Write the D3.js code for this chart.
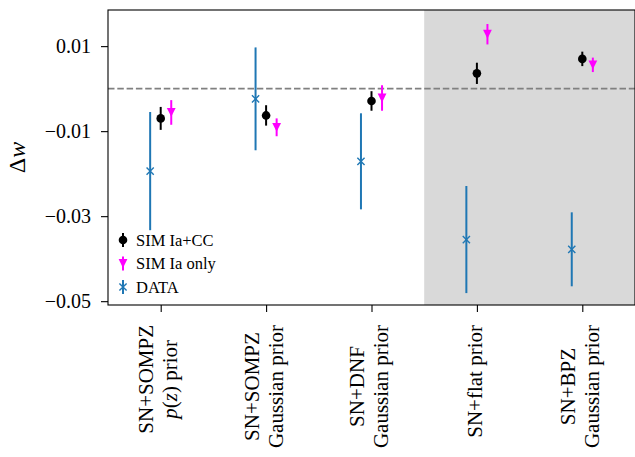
<!DOCTYPE html>
<html>
<head>
<meta charset="utf-8">
<script src="https://cdn.jsdelivr.net/npm/d3@7"></script>
<style>
  body { margin: 0; background: #fff; }
  svg { display: block; }
  svg text { font-family: "Liberation Serif", "DejaVu Serif", serif; }
</style>
</head>
<body>
<div id="chart"></div>
<script>
// category labels, one entry per line; _x_ marks italic (math) text
const categories = [
  ["SN+SOMPZ", "_p_(_z_) prior"],
  ["SN+SOMPZ", "Gaussian prior"],
  ["SN+DNF", "Gaussian prior"],
  ["SN+flat prior"],
  ["SN+BPZ", "Gaussian prior"]
];
const yTicks = [0.01, -0.01, -0.03, -0.05];

const simCC    = [-0.0070, -0.0063, -0.0029, 0.0036, 0.0070];
const simCCErr = [0.0027, 0.0024, 0.0023, 0.0025, 0.0017];
const simIa    = [-0.0056, -0.0091, -0.0022, 0.0128, 0.0056];
const simIaErr = [0.0029, 0.0021, 0.0030, 0.0024, 0.0017];
const dataW    = [-0.0194, -0.0024, -0.0171, -0.0355, -0.0378];
const dataErr  = [0.0139, 0.0121, 0.0113, 0.0126, 0.0087];

const shaded = [2.5, 4.5];   // x range of the grey band

const width = 635, height = 457;
const margin = {top: 10, right: 0, bottom: 152, left: 108};

const svg = d3.select('#chart').append('svg')
    .attr('width', width).attr('height', height);

const x = d3.scaleLinear([-0.5, 4.5], [margin.left, width - margin.right]);
const y = d3.scaleLinear([-0.0509, 0.0185], [height - margin.bottom, margin.top]);

const series = [
  {name: 'SIM Ia+CC', vals: simCC, errs: simCCErr, dx: 0, color: '#000000', marker: 'circle'},
  {name: 'SIM Ia only', vals: simIa, errs: simIaErr, dx: 0.1, color: '#ff00ff', marker: 'tri'},
  {name: 'DATA', vals: dataW, errs: dataErr, dx: -0.1, color: '#1f77b4', marker: 'x'}
];

// grey band
svg.append('rect')
    .attr('x', x(shaded[0])).attr('y', y.range()[1])
    .attr('width', x(shaded[1]) - x(shaded[0]))
    .attr('height', y.range()[0] - y.range()[1])
    .attr('fill', '#d9d9d9');

// zero line
svg.append('line')
    .attr('x1', x.range()[0]).attr('x2', x.range()[1])
    .attr('y1', y(0)).attr('y2', y(0))
    .attr('stroke', '#808080').attr('stroke-width', 1.6)
    .attr('stroke-dasharray', '6.5,2.8');

function drawMarker(g, type, color) {
  if (type === 'circle') {
    g.append('circle').attr('r', 4.3).attr('fill', color);
  } else if (type === 'tri') {
    const s = 4.4;
    g.append('path').attr('d', `M${-s},${-s}L${s},${-s}L0,${s}Z`).attr('fill', color);
  } else {
    const s = 3.6;
    g.append('path').attr('d', `M${-s},${-s}L${s},${s}M${-s},${s}L${s},${-s}`)
        .attr('stroke', color).attr('stroke-width', 1.4).attr('fill', 'none');
  }
}

// draw DATA first, then simulations
[series[2], series[0], series[1]].forEach(s => {
  const g = svg.append('g');
  const pts = s.vals.map((v, i) => ({i, v, e: s.errs[i]}));
  g.selectAll('line').data(pts).join('line')
      .attr('x1', d => x(d.i + s.dx)).attr('x2', d => x(d.i + s.dx))
      .attr('y1', d => y(d.v - d.e)).attr('y2', d => y(d.v + d.e))
      .attr('stroke', s.color).attr('stroke-width', 2);
  g.selectAll('g.pt').data(pts).join('g').classed('pt', true)
      .attr('transform', d => `translate(${x(d.i + s.dx)},${y(d.v)})`)
      .each(function() { drawMarker(d3.select(this), s.marker, s.color); });
});

// axes
const axisY = svg.append('g')
    .attr('transform', `translate(${margin.left},0)`)
    .call(d3.axisLeft(y).tickValues(yTicks).tickFormat(d3.format('.2f'))
        .tickSize(7).tickPadding(10));
axisY.attr('font-family', null).attr('font-size', 20);
axisY.select('.domain').remove();
axisY.selectAll('text').attr('dy', '0.33em');

const axisX = svg.append('g')
    .attr('transform', `translate(0,${height - margin.bottom})`)
    .call(d3.axisBottom(x).tickValues(d3.range(categories.length)).tickFormat('')
        .tickSize(7));
axisX.select('.domain').remove();
svg.selectAll('.tick line').attr('stroke-width', 1.1);

// frame
svg.append('rect')
    .attr('x', x.range()[0]).attr('y', y.range()[1])
    .attr('width', x.range()[1] - x.range()[0])
    .attr('height', y.range()[0] - y.range()[1])
    .attr('fill', 'none').attr('stroke', '#000').attr('stroke-width', 1.1);

// rotated category labels
function addRich(t, str) {
  str.split('_').forEach((part, k) => {
    if (part === '') return;
    t.append('tspan').text(part).attr('font-style', k % 2 ? 'italic' : null);
  });
}
const lineStep = 24, labelTop = 325;
categories.forEach((lines, i) => {
  const g = svg.append('g');
  const texts = lines.map((ln, j) => {
    const t = g.append('text').attr('font-size', 21);
    addRich(t, ln);
    return t;
  });
  const maxLen = d3.max(texts, t => t.node().getComputedTextLength());
  texts.forEach((t, j) => {
    const bx = x(i) + (j - (lines.length - 1) / 2) * lineStep + 4.75;
    const cy = labelTop + maxLen / 2;
    t.attr('text-anchor', 'middle')
        .attr('transform', `translate(${bx},${cy})rotate(-90)`);
  });
});

// y label
const yl = svg.append('text')
    .attr('transform', `translate(25,${(y.range()[0] + y.range()[1]) / 2})rotate(-90)`)
    .attr('text-anchor', 'middle').attr('font-size', 24);
yl.append('tspan').text('Δ');
yl.append('tspan').text('w').attr('font-style', 'italic');

// legend
const legend = svg.append('g').attr('transform', 'translate(123,240)');
series.forEach((s, k) => {
  const row = legend.append('g').attr('transform', `translate(0,${k * 23.5})`);
  row.append('line').attr('y1', -7).attr('y2', 7)
      .attr('stroke', s.color).attr('stroke-width', 2);
  drawMarker(row, s.marker, s.color);
  row.append('text').attr('x', 13).attr('y', 5.5)
      .attr('font-size', 16.5).text(s.name);
});
</script>
</body>
</html>
